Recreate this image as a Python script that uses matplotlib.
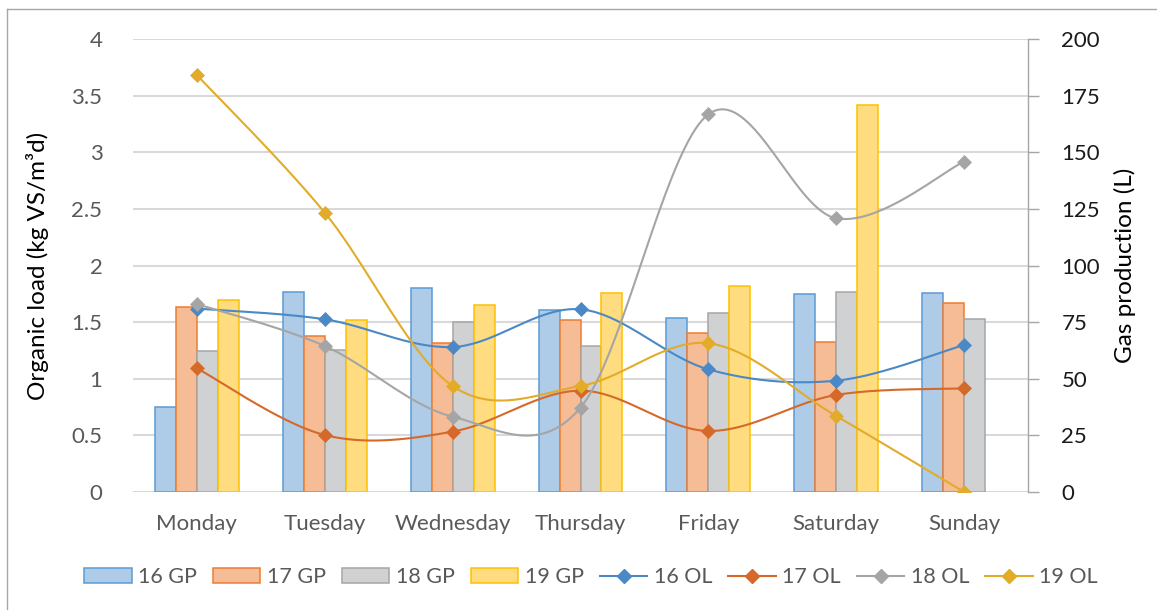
import numpy as np
import matplotlib
matplotlib.use("Agg")
import matplotlib.pyplot as plt
from matplotlib.patches import Patch
from matplotlib.lines import Line2D

plt.rcParams['font.family'] = ['Lato', 'DejaVu Sans']

days = ["Monday", "Tuesday", "Wednesday", "Thursday", "Friday", "Saturday", "Sunday"]

# Gas production (L), right axis
gp16 = [37.7, 88.2, 90.0, 80.2, 77.0, 87.3, 88.0]
gp17 = [81.5, 68.9, 65.9, 76.1, 70.3, 66.1, 83.6]
gp18 = [62.4, 62.7, 75.2, 64.5, 79.2, 88.2, 76.4]
gp19 = [84.8, 75.9, 82.6, 87.9, 91.1, 171.0, np.nan]

# Organic load (kg VS/m3d), left axis
ol16 = [1.62, 1.525, 1.28, 1.613, 1.083, 0.983, 1.298]
ol17 = [1.092, 0.503, 0.533, 0.895, 0.539, 0.857, 0.915]
ol18 = [1.66, 1.289, 0.665, 0.745, 3.335, 2.417, 2.917]
ol19 = [3.682, 2.466, 0.936, 0.936, 1.313, 0.671, 0.0]

gp_labels = ["16 GP", "17 GP", "18 GP", "19 GP"]
ol_labels = ["16 OL", "17 OL", "18 OL", "19 OL"]

bar_fill = ["#AECBE8", "#F5BC96", "#D0D1D3", "#FFDC80"]
bar_edge = ["#5B9BD5", "#ED7D31", "#A5A5A5", "#FFC000"]
line_col = ["#4A89C5", "#D5692A", "#A5A5A5", "#E2AC2A"]

W, H = 1157, 610
fig = plt.figure(figsize=(W / 100, H / 100), dpi=100)
ax2 = fig.add_axes([133 / W, 1 - 492 / H, (1028 - 133) / W, (492 - 39) / H])
ax = ax2.twinx()
# lines on top of the bars
ax.set_zorder(ax2.get_zorder() + 1)
ax.patch.set_visible(False)
# organic-load axis on the left, gas production on the right
ax.yaxis.tick_left()
ax.yaxis.set_label_position("left")
ax2.yaxis.tick_right()
ax2.yaxis.set_label_position("right")

x = np.arange(len(days))
bw = 0.164
for k, vals in enumerate([gp16, gp17, gp18, gp19]):
    ax2.bar(x + (k - 1.5) * bw, vals, width=bw, color=bar_fill[k],
            edgecolor=bar_edge[k], linewidth=1.1, zorder=3)


def smooth(xs, ys, n=40):
    pts = np.column_stack([xs, ys]).astype(float)
    out = [pts[0]]
    m = len(pts)
    t = np.linspace(0, 1, n)[1:, None]
    for i in range(m - 1):
        p0 = pts[i - 1] if i > 0 else pts[i]
        p1 = pts[i]
        p2 = pts[i + 1]
        p3 = pts[i + 2] if i + 2 < m else pts[i + 1]
        c1 = p1 + (p2 - p0) / 6
        c2 = p2 - (p3 - p1) / 6
        seg = ((1 - t) ** 3) * p1 + 3 * ((1 - t) ** 2) * t * c1 + 3 * (1 - t) * t ** 2 * c2 + t ** 3 * p2
        out.extend(seg)
    out = np.array(out)
    return out[:, 0], out[:, 1]


for k, vals in enumerate([ol16, ol17, ol18, ol19]):
    sx, sy = smooth(x, vals)
    ax.plot(sx, sy, color=line_col[k], lw=1.5, zorder=4, solid_capstyle='round')
    ax.plot(x, vals, ls='none', marker='D', ms=6.8, color=line_col[k],
            markeredgecolor=line_col[k], markeredgewidth=0.5, zorder=5)

ax.set_xlim(-0.5, 6.5)
ax.set_ylim(0, 4)
ax2.set_ylim(0, 200)
ax.set_yticks(np.arange(0, 4.01, 0.5))
ax.set_yticklabels(["0", "0.5", "1", "1.5", "2", "2.5", "3", "3.5", "4"])
ax2.set_yticks(np.arange(0, 201, 25))
ax2.set_xticks(x)
ax2.set_xticklabels(days)

grid_c = "#D9D9D9"
ax2.set_axisbelow(True)
ax2.yaxis.grid(True, color=grid_c, lw=1.5, zorder=0)
ax2.xaxis.grid(False)

for a in (ax, ax2):
    for s in a.spines.values():
        s.set_visible(False)
ax2.spines['right'].set_visible(True)
ax2.spines['right'].set_color("#A6A6A6")
ax2.spines['right'].set_linewidth(1.0)

tick_fs = 16
ax.tick_params(axis='y', length=0, pad=22, labelsize=tick_fs, labelcolor="#595959")
ax2.tick_params(axis='y', direction='out', length=8, width=1.0, color="#A6A6A6",
                pad=16, labelsize=tick_fs, labelcolor="#1A1A1A")
ax2.tick_params(axis='x', length=0, pad=16, labelsize=tick_fs, labelcolor="#595959")
ax.tick_params(axis='x', length=0, labelbottom=False)

ax.set_ylabel("Organic load (kg VS/m³d)", fontsize=17.5, color="black", labelpad=16)
ax2.set_ylabel("Gas production (L)", fontsize=17.5, color="black", labelpad=10)

handles = [Patch(facecolor=bar_fill[k], edgecolor=bar_edge[k], linewidth=1.1) for k in range(4)]
handles += [Line2D([0], [0], color=line_col[k], lw=1.5, marker='D', ms=6.8,
                   markeredgecolor=line_col[k]) for k in range(4)]
leg = fig.legend(handles, gp_labels + ol_labels, ncol=8, loc='center',
                 bbox_to_anchor=(591 / W, 1 - 577 / H), frameon=False,
                 fontsize=15.5, handlelength=2.2, handleheight=0.65,
                 handletextpad=0.3, columnspacing=0.75)
for t in leg.get_texts():
    t.set_color("#595959")

# chart border
fig.add_artist(Line2D([7 / W, 7 / W], [0, 1 - 9 / H], color="#A6A6A6", lw=1.0))
fig.add_artist(Line2D([7 / W, 1], [1 - 9 / H, 1 - 9 / H], color="#A6A6A6", lw=1.0))

fig.savefig("out.png", dpi=100)
